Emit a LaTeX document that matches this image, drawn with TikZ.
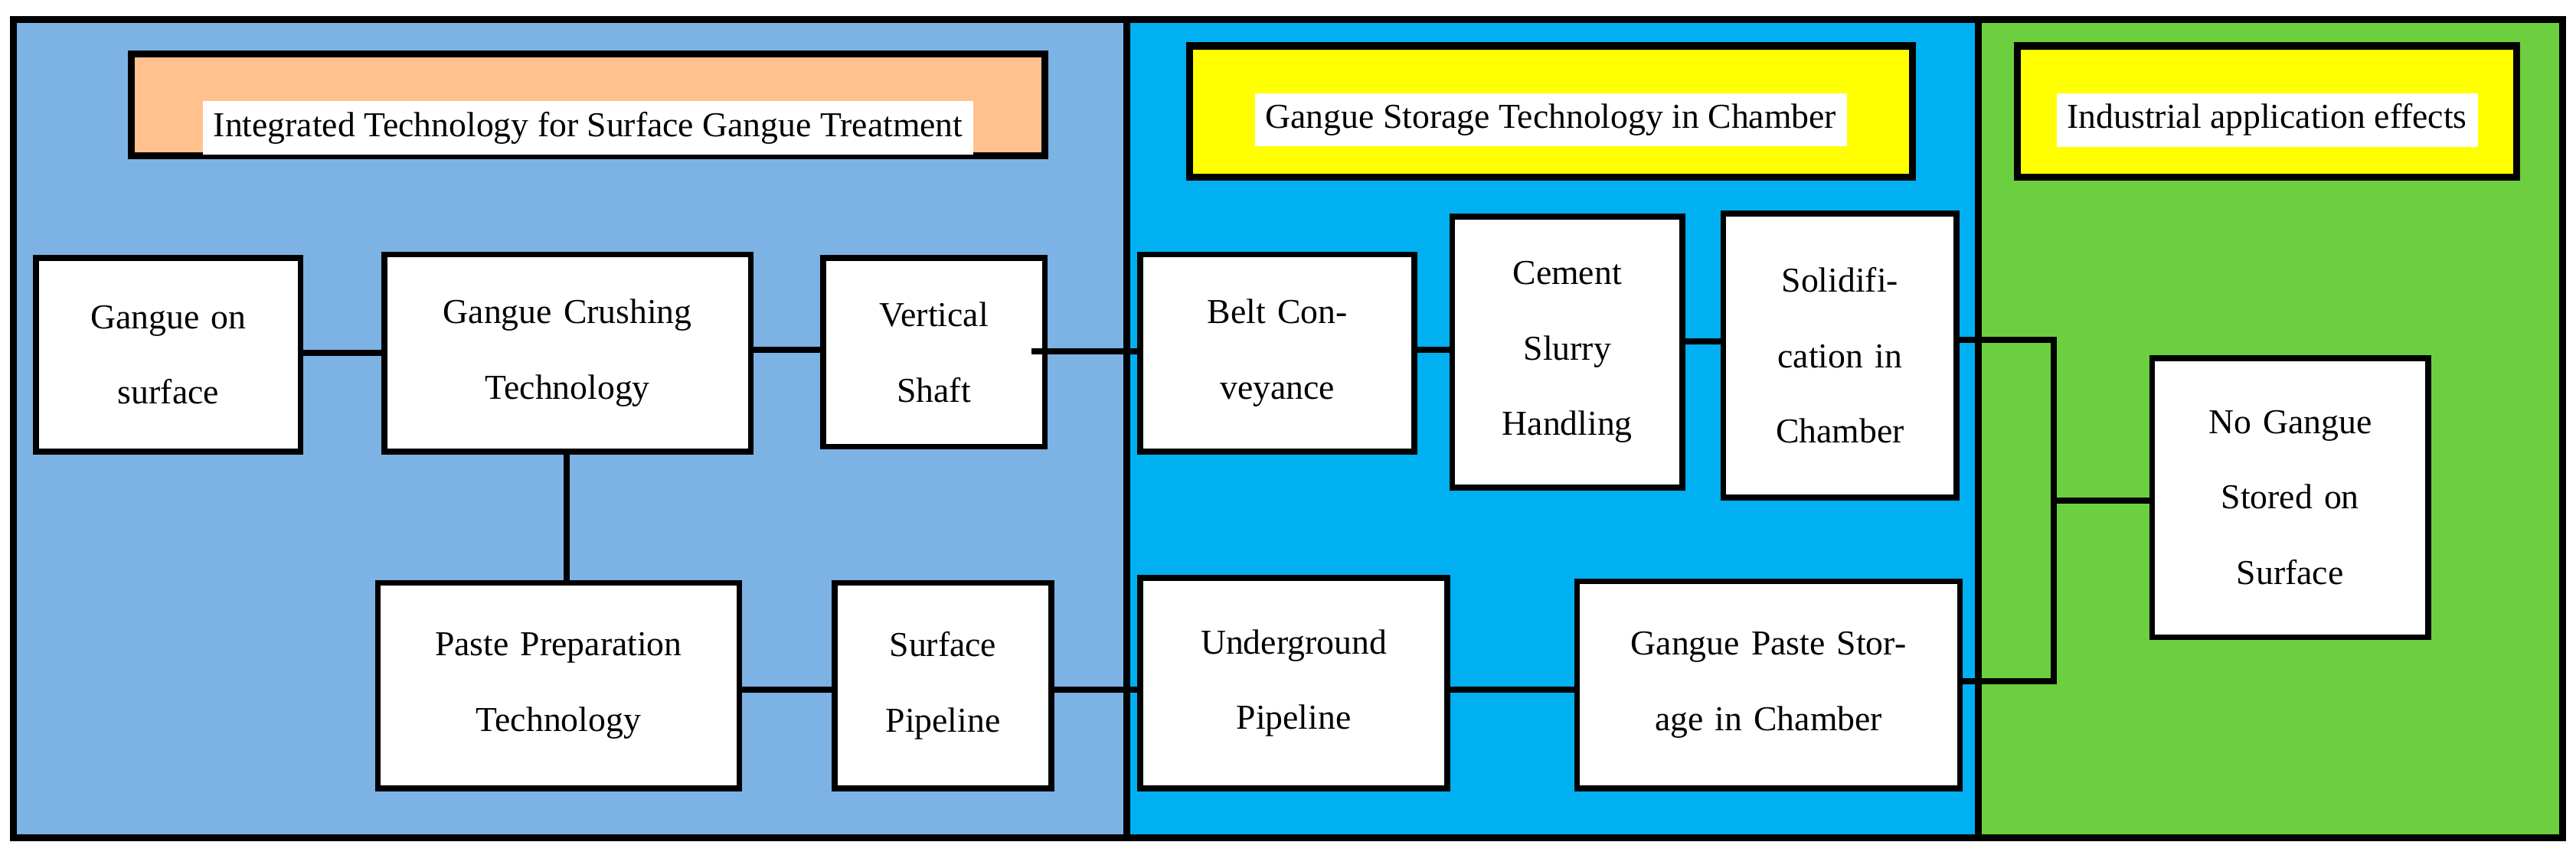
\documentclass[tikz,border=0pt]{standalone}
\usepackage{fontspec}
\setmainfont{Liberation Serif}
\newcommand{\bx}[6]{%
 \pgfmathsetmacro{\bw}{(#4-#2)*0.021454}%
 \pgfmathsetmacro{\bh}{(#5-#3)*0.021454}%
 \pgfmathsetmacro{\tw}{(#4-#2)*0.021454-0.5}%
 \node[box,minimum width=\bw cm,minimum height=\bh cm,text width=\tw cm] (#1) at ({(#2+#4)/2},{(#3+#5)/2}) {#6};}
\begin{document}
\begin{tikzpicture}[x=0.021454cm,y=-0.021454cm,
 box/.style={draw=black,line width=2.2pt,fill=white,align=center,inner sep=0pt,outer sep=0pt,font=\fontsize{13}{28}\selectfont},
 panel/.style={draw=black,line width=2.6pt},
 lbl/.style={fill=white,inner sep=4pt,font=\fontsize{13}{16}\selectfont},
 ln/.style={line width=2.2pt}]
\useasboundingbox (0,0) rectangle (1568,520.6);
\fill[white] (0,0) rectangle (1568,520.6);
\definecolor{pA}{HTML}{7DB2E4}\definecolor{pB}{HTML}{00B0F0}\definecolor{pC}{HTML}{6CCF3F}
\definecolor{hA}{HTML}{FFC28F}\definecolor{hY}{HTML}{FFFF00}
\draw[panel,fill=pA] (8,12) rectangle (686,510);
\draw[panel,fill=pB] (686,12) rectangle (1204,510);
\draw[panel,fill=pC] (1204,12) rectangle (1560,510);
\draw[panel,fill=hA] (80,33) rectangle (636,95);
\node[lbl] (h1) at (358,78) {Integrated Technology for Surface Gangue Treatment};
\draw[panel,fill=hY] (724,28) rectangle (1164,108);
\node[lbl] (h2) at (944,73) {Gangue Storage Technology in Chamber};
\draw[panel,fill=hY] (1228,28) rectangle (1532,108);
\node[lbl] (h3) at (1380,73) {Industrial application effects};
\bx{gs}{22}{157}{183}{275}{Gangue on\\surface}
\bx{gc}{234}{155}{457}{275}{Gangue Crushing\\Technology}
\bx{vs}{501}{157}{636}{272}{Vertical\\Shaft}
\bx{bc}{694}{155}{861}{275}{Belt Con-\\veyance}
\bx{cs}{884}{132}{1024}{297}{Cement\\Slurry\\Handling}
\bx{sc}{1049}{130}{1191}{303}{Solidifi-\\cation in\\Chamber}
\bx{ng}{1310}{218}{1478}{388}{No Gangue\\Stored on\\Surface}
\bx{pp}{230}{355}{450}{480}{Paste Preparation\\Technology}
\bx{sp}{508}{355}{640}{480}{Surface\\Pipeline}
\bx{up}{694}{352}{881}{480}{Underground\\Pipeline}
\bx{gp}{960}{354}{1193}{480}{Gangue Paste Stor-\\age in Chamber}
\coordinate (vsx) at (628,214);
\coordinate (j) at (1250,305);
\draw[ln] (gs.east|-0,215) -- (gc.west|-0,215);
\draw[ln] (gc.east|-0,213) -- (vs.west|-0,213);
\draw[ln] (vsx) -- (bc.west|-vsx);
\draw[ln] (bc.east|-0,213) -- (cs.west|-0,213);
\draw[ln] (cs.east|-0,208) -- (sc.west|-0,208);
\draw[ln] (sc.east|-0,207) -| (j) -- (ng.west|-j);
\draw[ln] (gp.east|-0,415) -| (j);
\draw[ln] (gc.south-|345,0) -- (pp.north-|345,0);
\draw[ln] (pp.east|-0,420) -- (sp.west|-0,420);
\draw[ln] (sp.east|-0,420) -- (up.west|-0,420);
\draw[ln] (up.east|-0,420) -- (gp.west|-0,420);
\end{tikzpicture}
\end{document}
